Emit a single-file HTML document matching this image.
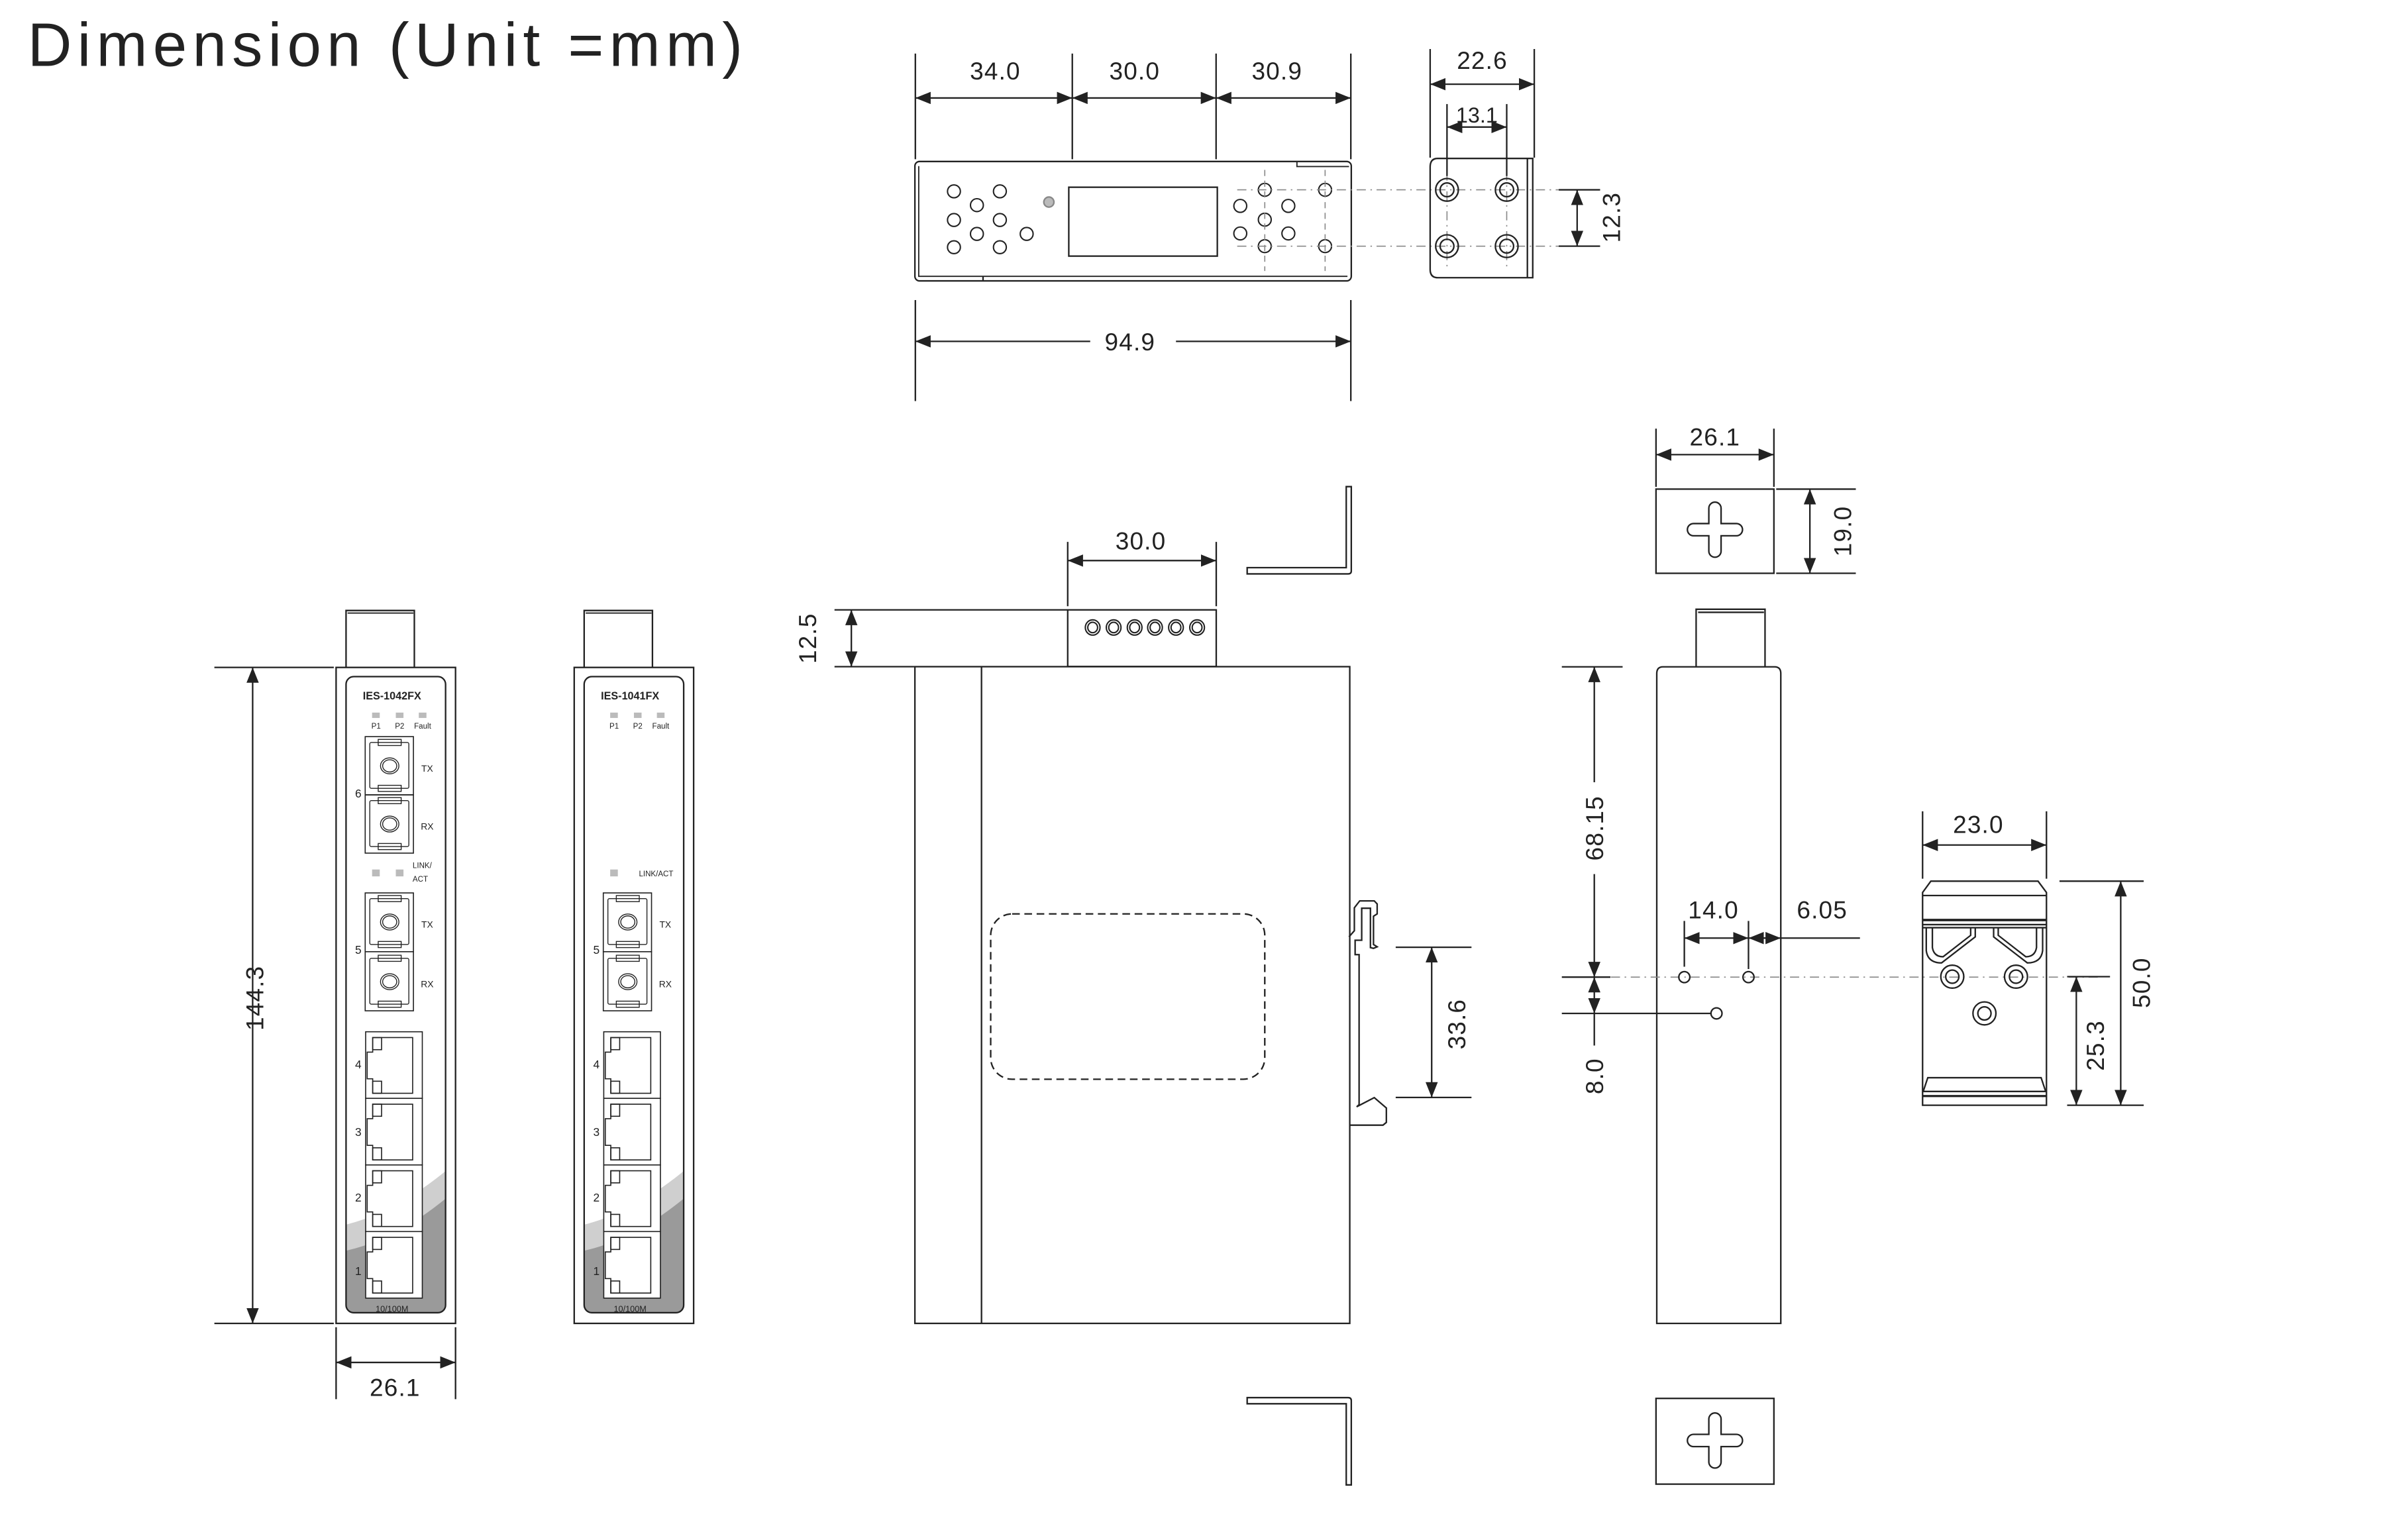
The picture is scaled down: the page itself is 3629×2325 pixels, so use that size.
<!DOCTYPE html>
<html><head><meta charset="utf-8"><style>
html,body{margin:0;padding:0;background:#fff;}
svg{display:block;}
text{font-family:"Liberation Sans",Arial,sans-serif;fill:#222;}
</style></head><body>
<svg width="3629" height="2325" viewBox="0 0 1570 1006" preserveAspectRatio="none" xmlns="http://www.w3.org/2000/svg">
<defs>
<marker id="a" markerUnits="userSpaceOnUse" markerWidth="10" markerHeight="8" refX="10" refY="4" orient="auto-start-reverse"><path d="M0,0 L10,4 L0,8 Z" fill="#222"/></marker>
</defs>
<rect width="1570" height="1006" fill="#fff"/>
<text x="18" y="43" font-size="40" textLength="467" fill="#222">Dimension (Unit =mm)</text>

<g stroke="#222" stroke-width="1" fill="none">
<rect x="597.5" y="105.5" width="285" height="78" rx="3"/>
<path d="M600,108.5 V180.5 H880" stroke-width="0.8"/>
<path d="M847,105.5 V108.8 H881" stroke-width="0.8"/>
<line x1="642" y1="180.5" x2="642" y2="183.5"/>
<rect x="698" y="122.3" width="97" height="45"/>
<g stroke-width="0.9">
<circle cx="623" cy="125" r="4.2"/><circle cx="653" cy="125" r="4.2"/><circle cx="638" cy="134" r="4.2"/>
<circle cx="623" cy="143.7" r="4.2"/><circle cx="653" cy="143.7" r="4.2"/><circle cx="638" cy="152.8" r="4.2"/>
<circle cx="670.5" cy="152.8" r="4.2"/><circle cx="623" cy="161.5" r="4.2"/><circle cx="653" cy="161.5" r="4.2"/>
<circle cx="826" cy="124" r="4.2"/><circle cx="865.4" cy="124" r="4.2"/><circle cx="810" cy="134.5" r="4.2"/>
<circle cx="841.4" cy="134.5" r="4.2"/><circle cx="826" cy="143.5" r="4.2"/><circle cx="810" cy="152.5" r="4.2"/>
<circle cx="841.4" cy="152.5" r="4.2"/><circle cx="826" cy="160.8" r="4.2"/><circle cx="865.4" cy="160.8" r="4.2"/>
</g>
<circle cx="685" cy="132" r="3.3" fill="#bbb" stroke="#888"/>
<g stroke="#888" stroke-width="0.7" stroke-dasharray="4,3">
<line x1="826" y1="111" x2="826" y2="177"/><line x1="865.4" y1="111" x2="865.4" y2="177"/>
</g>
<g stroke="#888" stroke-width="0.7" stroke-dasharray="6,3,1,3">
<line x1="808" y1="124" x2="1042" y2="124"/><line x1="808" y1="160.8" x2="1042" y2="160.8"/>
<line x1="945" y1="86" x2="945" y2="177"/><line x1="984" y1="86" x2="984" y2="177"/>
</g>
<path d="M934,109 Q934,103.5 939,103.5 H1001 V181.4 H939 Q934,181.4 934,176 Z"/>
<line x1="997.5" y1="103.5" x2="997.5" y2="181.4"/>
<circle cx="945" cy="124" r="7.4"/><circle cx="945" cy="124" r="4.5"/>
<circle cx="984" cy="124" r="7.4"/><circle cx="984" cy="124" r="4.5"/>
<circle cx="945" cy="160.8" r="7.4"/><circle cx="945" cy="160.8" r="4.5"/>
<circle cx="984" cy="160.8" r="7.4"/><circle cx="984" cy="160.8" r="4.5"/>

<line x1="597.8" y1="35" x2="597.8" y2="104"/><line x1="700.3" y1="35" x2="700.3" y2="104"/>
<line x1="794.2" y1="35" x2="794.2" y2="104"/><line x1="882.2" y1="35" x2="882.2" y2="104"/>
<line x1="597.8" y1="64" x2="700.3" y2="64" marker-start="url(#a)" marker-end="url(#a)"/>
<line x1="700.3" y1="64" x2="794.2" y2="64" marker-start="url(#a)" marker-end="url(#a)"/>
<line x1="794.2" y1="64" x2="882.2" y2="64" marker-start="url(#a)" marker-end="url(#a)"/>
<line x1="597.8" y1="196" x2="597.8" y2="262"/><line x1="882.2" y1="196" x2="882.2" y2="262"/>
<line x1="597.8" y1="223" x2="712" y2="223" marker-start="url(#a)"/>
<line x1="768" y1="223" x2="882.2" y2="223" marker-end="url(#a)"/>
<line x1="934" y1="32" x2="934" y2="103"/><line x1="1002" y1="32" x2="1002" y2="103"/>
<line x1="934" y1="55" x2="1002" y2="55" marker-start="url(#a)" marker-end="url(#a)"/>
<line x1="945" y1="68" x2="945" y2="115"/><line x1="984" y1="68" x2="984" y2="115"/>
<line x1="945" y1="83" x2="984" y2="83" marker-start="url(#a)" marker-end="url(#a)"/>
<line x1="1018" y1="124" x2="1045" y2="124"/><line x1="1018" y1="160.8" x2="1045" y2="160.8"/>
<line x1="1030" y1="124" x2="1030" y2="160.8" marker-start="url(#a)" marker-end="url(#a)"/>

<rect x="597.5" y="435.5" width="284" height="429"/>
<line x1="641" y1="435.5" x2="641" y2="864.5"/>
<rect x="697.3" y="398.4" width="97" height="37"/>
<g stroke-width="0.9">
<ellipse cx="713.6" cy="409.9" rx="4.8" ry="5"/><ellipse cx="713.6" cy="409.9" rx="3.2" ry="3.4"/>
<ellipse cx="727.3" cy="409.9" rx="4.8" ry="5"/><ellipse cx="727.3" cy="409.9" rx="3.2" ry="3.4"/>
<ellipse cx="741" cy="409.9" rx="4.8" ry="5"/><ellipse cx="741" cy="409.9" rx="3.2" ry="3.4"/>
<ellipse cx="754.3" cy="409.9" rx="4.8" ry="5"/><ellipse cx="754.3" cy="409.9" rx="3.2" ry="3.4"/>
<ellipse cx="768" cy="409.9" rx="4.8" ry="5"/><ellipse cx="768" cy="409.9" rx="3.2" ry="3.4"/>
<ellipse cx="781.8" cy="409.9" rx="4.8" ry="5"/><ellipse cx="781.8" cy="409.9" rx="3.2" ry="3.4"/>
</g>
<rect x="647" y="597" width="179" height="108" rx="14" stroke-dasharray="5,3"/>
<path d="M881,612 L884.5,608 L884.5,593 L888,588.5 L897.5,588.5 L899.4,590.5 L899.4,597 L897,598.5 L897,617 L899.4,618.5 L897,619.5 L895,619 L895,593.3 L889.3,593.3 L889.3,614.2 L885,614.2 L885,623.6 L887.6,623.6 L887.6,721.6 L886,723 L897.5,717 L905.4,723.8 L905.4,733.2 L903.2,735 L881.6,735"/>
<path d="M814.5,370.8 H879.2 V317.9 H882.5 V373 Q882.5,374.9 880.5,374.9 H814.5 Z"/>
<path d="M814.5,913 H880.5 Q882.5,913 882.5,915 V970 H879.2 V917 H814.5 Z"/>
<line x1="697.3" y1="354" x2="697.3" y2="396"/><line x1="794.3" y1="354" x2="794.3" y2="396"/>
<line x1="697.3" y1="366.2" x2="794.3" y2="366.2" marker-start="url(#a)" marker-end="url(#a)"/>
<line x1="545" y1="398.4" x2="697" y2="398.4"/><line x1="545" y1="435.5" x2="597" y2="435.5"/>
<line x1="556" y1="398.4" x2="556" y2="435.5" marker-start="url(#a)" marker-end="url(#a)"/>
<line x1="911.5" y1="618.8" x2="961" y2="618.8"/><line x1="911.5" y1="716.9" x2="961" y2="716.9"/>
<line x1="935" y1="618.8" x2="935" y2="716.9" marker-start="url(#a)" marker-end="url(#a)"/>

<line x1="140" y1="436" x2="218" y2="436"/><line x1="140" y1="864.5" x2="218" y2="864.5"/>
<line x1="165" y1="436" x2="165" y2="864.5" marker-start="url(#a)" marker-end="url(#a)"/>
<line x1="219.5" y1="867" x2="219.5" y2="914"/><line x1="297.5" y1="867" x2="297.5" y2="914"/>
<line x1="219.5" y1="890" x2="297.5" y2="890" marker-start="url(#a)" marker-end="url(#a)"/>

<path d="M1082,440 Q1082,435.6 1086,435.6 H1159 Q1163,435.6 1163,440 V864.5 H1082 Z"/>
<path d="M1107.7,435.6 V398 H1152.7 V435.6"/><line x1="1109" y1="400" x2="1152" y2="400"/>
<rect x="1081.5" y="319.5" width="77" height="55"/>
<rect x="1081.5" y="913.5" width="77" height="56"/>
<path d="M1116,342 V332 A4,4 0 0 1 1124,332 V342 H1134 A4,4 0 0 1 1134,350 H1124 V360 A4,4 0 0 1 1116,360 V350 H1106 A4,4 0 0 1 1106,342 Z"/>
<path d="M1116,937 V927 A4,4 0 0 1 1124,927 V937 H1134 A4,4 0 0 1 1134,945 H1124 V955 A4,4 0 0 1 1116,955 V945 H1106 A4,4 0 0 1 1106,937 Z"/>
<line x1="1081.5" y1="280" x2="1081.5" y2="318"/><line x1="1158.5" y1="280" x2="1158.5" y2="318"/>
<line x1="1081.5" y1="297" x2="1158.5" y2="297" marker-start="url(#a)" marker-end="url(#a)"/>
<line x1="1160" y1="319.5" x2="1212" y2="319.5"/><line x1="1160" y1="374.5" x2="1212" y2="374.5"/>
<line x1="1182" y1="319.5" x2="1182" y2="374.5" marker-start="url(#a)" marker-end="url(#a)"/>
<line x1="1020" y1="435.6" x2="1059.7" y2="435.6"/>
<line x1="1041.2" y1="511" x2="1041.2" y2="435.6" marker-end="url(#a)"/>
<line x1="1041.2" y1="571" x2="1041.2" y2="638.3" marker-end="url(#a)"/>
<line x1="1020" y1="638.3" x2="1051.7" y2="638.3"/>
<line x1="1052" y1="638.3" x2="1370" y2="638.3" stroke="#888" stroke-width="0.7" stroke-dasharray="6,3,1,3"/>
<line x1="1020" y1="662" x2="1117.3" y2="662"/>
<line x1="1041.2" y1="662" x2="1041.2" y2="638.3" marker-start="url(#a)" marker-end="url(#a)"/>
<line x1="1041.2" y1="662" x2="1041.2" y2="683"/>
<circle cx="1100" cy="638.3" r="3.6"/><circle cx="1141.9" cy="638.3" r="3.6"/><circle cx="1121" cy="662" r="3.6"/>
<line x1="1100" y1="601.6" x2="1100" y2="631.5"/><line x1="1141.9" y1="601.6" x2="1141.9" y2="633"/>
<line x1="1100" y1="612.8" x2="1141.9" y2="612.8" marker-start="url(#a)" marker-end="url(#a)"/>
<line x1="1155" y1="612.8" x2="1141.9" y2="612.8" marker-end="url(#a)"/>
<line x1="1150" y1="612.8" x2="1163" y2="612.8" marker-end="url(#a)"/>
<line x1="1163" y1="612.8" x2="1214.7" y2="612.8"/>

<path d="M1255.6,583 L1261,575.6 H1331 L1336.5,583 V722 H1255.6 Z"/>
<line x1="1255.6" y1="585" x2="1336.5" y2="585"/>
<line x1="1255.6" y1="601" x2="1336.5" y2="601" stroke-width="1.6"/>
<line x1="1255.6" y1="604" x2="1336.5" y2="604"/>
<line x1="1255.6" y1="606" x2="1336.5" y2="606"/>
<path d="M1258,606 V621 Q1259,629 1268,629 L1290,612 V606"/>
<path d="M1262,606 V619 Q1263,625 1269,625 L1287,611 V606"/>
<path d="M1334,606 V621 Q1333,629 1324,629 L1302,612 V606"/>
<path d="M1330,606 V619 Q1329,625 1323,625 L1305,611 V606"/>
<circle cx="1275" cy="638" r="7.5"/><circle cx="1275" cy="638" r="4.3"/>
<circle cx="1316.6" cy="638" r="7.5"/><circle cx="1316.6" cy="638" r="4.3"/>
<circle cx="1296" cy="662" r="7.5"/><circle cx="1296" cy="662" r="4.3"/>
<path d="M1256,713 L1259,704 H1333 L1336,713"/>
<line x1="1255.6" y1="713" x2="1336.5" y2="713"/>
<line x1="1255.6" y1="716" x2="1336.5" y2="716" stroke-width="1.4"/>
<line x1="1255.6" y1="530" x2="1255.6" y2="574"/><line x1="1336.5" y1="530" x2="1336.5" y2="574"/>
<line x1="1255.6" y1="552" x2="1336.5" y2="552" marker-start="url(#a)" marker-end="url(#a)"/>
<line x1="1345" y1="575.6" x2="1400" y2="575.6"/><line x1="1350" y1="722" x2="1400" y2="722"/>
<line x1="1385" y1="575.6" x2="1385" y2="722" marker-start="url(#a)" marker-end="url(#a)"/>
<line x1="1350" y1="638" x2="1378" y2="638"/>
<line x1="1356" y1="638" x2="1356" y2="722" marker-start="url(#a)" marker-end="url(#a)"/>
</g>

<g font-size="16" text-anchor="middle" letter-spacing="0.5">
<text x="650" y="52">34.0</text><text x="741" y="52">30.0</text><text x="834" y="52">30.9</text>
<text x="738" y="229">94.9</text>
<text x="968" y="45">22.6</text>
<text transform="translate(1058,142) rotate(-90)">12.3</text>
<text x="745" y="359">30.0</text>
<text transform="translate(533,417) rotate(-90)">12.5</text>
<text transform="translate(957,669) rotate(-90)">33.6</text>
<text transform="translate(172,652) rotate(-90)">144.3</text>
<text x="258" y="912">26.1</text>
<text x="1120" y="291">26.1</text>
<text transform="translate(1209,347) rotate(-90)">19.0</text>
<text transform="translate(1047,541) rotate(-90)">68.15</text>
<text transform="translate(1047,703) rotate(-90)">8.0</text>
<text x="1119" y="600">14.0</text><text x="1190" y="600">6.05</text>
<text x="1292" y="544">23.0</text>
<text transform="translate(1404,642) rotate(-90)">50.0</text>
<text transform="translate(1374,683) rotate(-90)">25.3</text>
</g>
<text x="964.5" y="80" font-size="14" text-anchor="middle">13.1</text>

<g id="fp1">
<g stroke="#222" fill="none" stroke-width="1">
<rect x="219.5" y="436" width="78" height="428.5"/>
<path d="M226,436 V398.8 H270.6 V436"/><line x1="227" y1="400.5" x2="270" y2="400.5" stroke-width="0.8"/>
</g>
<path d="M226,800 Q258,792 291,765 L291,852 Q291,857 286,857 L231,857 Q226,857 226,852 Z" fill="#cfcfcf"/>
<path d="M226,817 Q258,810 291,783 L291,852 Q291,857 286,857 L231,857 Q226,857 226,852 Z" fill="#9a9a9a"/>
<rect x="226" y="442" width="65" height="415.5" rx="5" fill="none" stroke="#222" stroke-width="1"/>
<text x="256" y="457" font-size="7" font-weight="bold" text-anchor="middle">IES-1042FX</text>
<g fill="#bbb"><rect x="243" y="465.5" width="5" height="3.5"/><rect x="258.5" y="465.5" width="5" height="3.5"/><rect x="273.5" y="465.5" width="5" height="3.5"/></g>
<g font-size="5" text-anchor="middle"><text x="245.6" y="476">P1</text><text x="261" y="476">P2</text><text x="276" y="476">Fault</text></g>
<g stroke="#222" stroke-width="0.7" fill="#fff">
<rect x="238.5" y="481.2" width="31.5" height="38"/><rect x="238.5" y="519.3" width="31.5" height="38"/>
<rect x="238.5" y="583.3" width="31.5" height="38.4"/><rect x="238.5" y="621.7" width="31.5" height="38.6"/>
</g>
<g stroke="#222" stroke-width="0.6" fill="none">
<rect x="241.5" y="485" width="25.5" height="30" rx="1"/><rect x="247" y="483" width="15" height="4"/><rect x="247" y="513" width="15" height="4"/><ellipse cx="254.5" cy="500.3" rx="6" ry="5.2"/><ellipse cx="254.5" cy="500.3" rx="4.6" ry="4"/>
<rect x="241.5" y="523" width="25.5" height="30" rx="1"/><rect x="247" y="521" width="15" height="4"/><rect x="247" y="551" width="15" height="4"/><ellipse cx="254.5" cy="538.3" rx="6" ry="5.2"/><ellipse cx="254.5" cy="538.3" rx="4.6" ry="4"/>
<rect x="241.5" y="587" width="25.5" height="30" rx="1"/><rect x="247" y="585" width="15" height="4"/><rect x="247" y="615" width="15" height="4"/><ellipse cx="254.5" cy="602.3" rx="6" ry="5.2"/><ellipse cx="254.5" cy="602.3" rx="4.6" ry="4"/>
<rect x="241.5" y="626" width="25.5" height="30" rx="1"/><rect x="247" y="624" width="15" height="4"/><rect x="247" y="654" width="15" height="4"/><ellipse cx="254.5" cy="641.3" rx="6" ry="5.2"/><ellipse cx="254.5" cy="641.3" rx="4.6" ry="4"/>
</g>
<g font-size="6" text-anchor="middle"><text x="279" y="504">TX</text><text x="279" y="542">RX</text><text x="279" y="606">TX</text><text x="279" y="645">RX</text></g>
<g font-size="7.5" text-anchor="middle"><text x="234" y="521">6</text><text x="234" y="623">5</text></g>
<g fill="#bbb"><rect x="243" y="568" width="5" height="4.5"/><rect x="258.5" y="568" width="5" height="4.5"/></g>
<g font-size="5"><text x="269.5" y="567">LINK/</text><text x="269.5" y="576">ACT</text></g>
<g id="rj">
<g stroke="#222" stroke-width="0.7">
<rect x="238.8" y="674" width="37" height="43.5" fill="#fff"/><rect x="238.8" y="717.5" width="37" height="43.5" fill="#fff"/>
<rect x="238.8" y="761" width="37" height="43.5" fill="#fff"/><rect x="238.8" y="804.5" width="37" height="43.5" fill="#fff"/>
</g>
<g stroke="#222" stroke-width="0.7" fill="none">
<path d="M243.4,677.8 H269.5 V714.2 H243.4 V704.7 H239.8 V687.3 H243.4 Z"/><rect x="243.4" y="677.8" width="5.8" height="7.9"/><rect x="243.4" y="706.3" width="5.8" height="7.9"/>
<path d="M243.4,721.3 H269.5 V757.7 H243.4 V748.2 H239.8 V730.8 H243.4 Z"/><rect x="243.4" y="721.3" width="5.8" height="7.9"/><rect x="243.4" y="749.8" width="5.8" height="7.9"/>
<path d="M243.4,764.8 H269.5 V801.2 H243.4 V791.7 H239.8 V774.3 H243.4 Z"/><rect x="243.4" y="764.8" width="5.8" height="7.9"/><rect x="243.4" y="793.3" width="5.8" height="7.9"/>
<path d="M243.4,808.3 H269.5 V844.7 H243.4 V835.2 H239.8 V817.8 H243.4 Z"/><rect x="243.4" y="808.3" width="5.8" height="7.9"/><rect x="243.4" y="836.8" width="5.8" height="7.9"/>
</g>
<g font-size="7.5" text-anchor="middle"><text x="234" y="698">4</text><text x="234" y="742">3</text><text x="234" y="785">2</text><text x="234" y="833">1</text></g>
</g>
<text x="256" y="857" font-size="5.5" text-anchor="middle">10/100M</text>
</g>

<g transform="translate(155.5,0)">
<g stroke="#222" fill="none" stroke-width="1">
<rect x="219.5" y="436" width="78" height="428.5"/>
<path d="M226,436 V398.8 H270.6 V436"/><line x1="227" y1="400.5" x2="270" y2="400.5" stroke-width="0.8"/>
</g>
<path d="M226,800 Q258,792 291,765 L291,852 Q291,857 286,857 L231,857 Q226,857 226,852 Z" fill="#cfcfcf"/>
<path d="M226,817 Q258,810 291,783 L291,852 Q291,857 286,857 L231,857 Q226,857 226,852 Z" fill="#9a9a9a"/>
<rect x="226" y="442" width="65" height="415.5" rx="5" fill="none" stroke="#222" stroke-width="1"/>
<text x="256" y="457" font-size="7" font-weight="bold" text-anchor="middle">IES-1041FX</text>
<g fill="#bbb"><rect x="243" y="465.5" width="5" height="3.5"/><rect x="258.5" y="465.5" width="5" height="3.5"/><rect x="273.5" y="465.5" width="5" height="3.5"/></g>
<g font-size="5" text-anchor="middle"><text x="245.6" y="476">P1</text><text x="261" y="476">P2</text><text x="276" y="476">Fault</text></g>
<g stroke="#222" stroke-width="0.7" fill="#fff">
<rect x="238.5" y="583.3" width="31.5" height="38.4"/><rect x="238.5" y="621.7" width="31.5" height="38.6"/>
</g>
<g stroke="#222" stroke-width="0.6" fill="none">
<rect x="241.5" y="587" width="25.5" height="30" rx="1"/><rect x="247" y="585" width="15" height="4"/><rect x="247" y="615" width="15" height="4"/><ellipse cx="254.5" cy="602.3" rx="6" ry="5.2"/><ellipse cx="254.5" cy="602.3" rx="4.6" ry="4"/>
<rect x="241.5" y="626" width="25.5" height="30" rx="1"/><rect x="247" y="624" width="15" height="4"/><rect x="247" y="654" width="15" height="4"/><ellipse cx="254.5" cy="641.3" rx="6" ry="5.2"/><ellipse cx="254.5" cy="641.3" rx="4.6" ry="4"/>
</g>
<g font-size="6" text-anchor="middle"><text x="279" y="606">TX</text><text x="279" y="645">RX</text></g>
<text x="234" y="623" font-size="7.5" text-anchor="middle">5</text>
<rect x="243" y="568" width="5" height="4.5" fill="#bbb"/>
<text x="273" y="572.5" font-size="5" text-anchor="middle">LINK/ACT</text>
<use href="#rj"/>
<text x="256" y="857" font-size="5.5" text-anchor="middle">10/100M</text>
</g>
</svg>
</body></html>
